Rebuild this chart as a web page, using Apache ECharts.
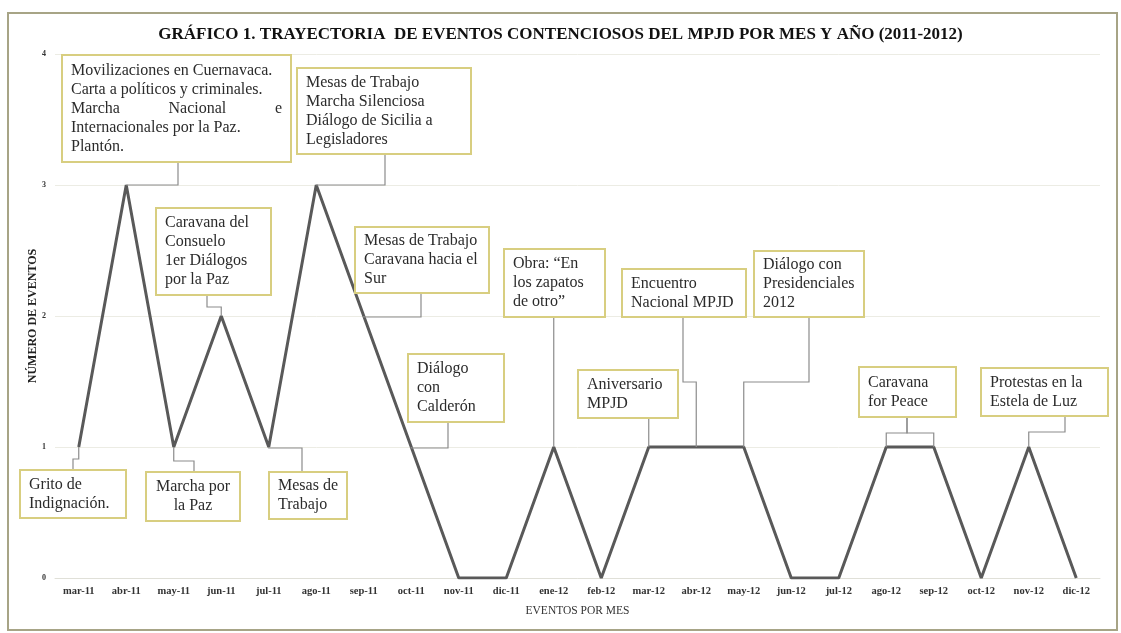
<!DOCTYPE html>
<html>
<head>
<meta charset="utf-8">
<script src="https://cdn.jsdelivr.net/npm/echarts@6/dist/echarts.min.js"></script>
<style>
  html, body { margin: 0; padding: 0; background: #fff; }
  #main { width: 1121px; height: 633px; }
</style>
</head>
<body>
<div id="main"></div>
<script>
// months on the x axis
const months = ['mar-11', 'abr-11', 'may-11', 'jun-11', 'jul-11', 'ago-11', 'sep-11', 'oct-11',
  'nov-11', 'dic-11', 'ene-12', 'feb-12', 'mar-12', 'abr-12', 'may-12', 'jun-12', 'jul-12',
  'ago-12', 'sep-12', 'oct-12', 'nov-12', 'dic-12'];
// number of contentious events per month
const events = [1, 3, 1, 2, 1, 3, 2, 1, 0, 0, 1, 0, 1, 1, 1, 0, 0, 1, 1, 0, 1, 0];

const serif = '"Liberation Serif", "DejaVu Serif", serif';

// callout boxes: box = [x, y, w, h], path = elbow from the box, to = data points it points at
const notes = [
  { box: [62, 55, 229, 107], lines: ['Movilizaciones en Cuernavaca.', 'Carta a políticos y criminales.', 'Marcha Nacional e', 'Internacionales por la Paz.', 'Plantón.'], justify: [2], path: [[178, 162], [178, 185]], to: [['abr-11', 3]] },
  { box: [297, 68, 174, 86], lines: ['Mesas de Trabajo', 'Marcha Silenciosa', 'Diálogo de Sicilia a', 'Legisladores'], path: [[385, 154], [385, 185]], to: [['ago-11', 3]] },
  { box: [156, 208, 115, 87], lines: ['Caravana del', 'Consuelo', '1er Diálogos', 'por la Paz'], path: [[207, 295], [207, 307]], to: [['jun-11', 2]] },
  { box: [355, 227, 134, 66], lines: ['Mesas de Trabajo', 'Caravana hacia el', 'Sur'], path: [[421, 293], [421, 317]], to: [['sep-11', 2]] },
  { box: [408, 354, 96, 68], lines: ['Diálogo', 'con', 'Calderón'], path: [[448, 422], [448, 448]], to: [['oct-11', 1]] },
  { box: [504, 249, 101, 68], lines: ['Obra: “En', 'los zapatos', 'de otro”'], path: [[553, 317]], to: [['ene-12', 1]] },
  { box: [622, 269, 124, 48], lines: ['Encuentro', 'Nacional MPJD'], path: [[683, 317], [683, 382]], to: [['abr-12', 1]] },
  { box: [754, 251, 110, 66], lines: ['Diálogo con', 'Presidenciales', '2012'], path: [[809, 317], [809, 382]], to: [['may-12', 1]] },
  { box: [578, 370, 100, 48], lines: ['Aniversario', 'MPJD'], path: [[649, 418]], to: [['mar-12', 1]] },
  { box: [859, 367, 97, 50], lines: ['Caravana', 'for Peace'], path: [[907, 417], [907, 433]], to: [['ago-12', 1], ['sep-12', 1]] },
  { box: [981, 368, 127, 48], lines: ['Protestas en la', 'Estela de Luz'], path: [[1065, 416], [1065, 432]], to: [['nov-12', 1]] },
  { box: [20, 470, 106, 48], lines: ['Grito de', 'Indignación.'], path: [[73, 470], [73, 459]], to: [['mar-11', 1]] },
  { box: [146, 472, 94, 49], lines: ['Marcha por', 'la Paz'], align: 'center', path: [[194, 472], [194, 461]], to: [['may-11', 1]] },
  { box: [269, 472, 78, 47], lines: ['Mesas de', 'Trabajo'], path: [[302, 472], [302, 448]], to: [['jul-11', 1]] }
];

const chart = echarts.init(document.getElementById('main'));

chart.setOption({
  animation: false,
  backgroundColor: '#fff',
  title: {
    text: 'GRÁFICO 1. TRAYECTORIA  DE EVENTOS CONTENCIOSOS DEL MPJD POR MES Y AÑO (2011-2012)',
    left: 'center',
    top: 21,
    textStyle: { fontFamily: serif, fontSize: 17, fontWeight: 'bold', color: '#111' }
  },
  grid: { left: 55, right: 21, top: 54, bottom: 55 },
  xAxis: {
    type: 'category',
    data: months,
    name: 'EVENTOS POR MES',
    nameLocation: 'middle',
    nameGap: 27,
    nameTextStyle: { fontFamily: serif, fontSize: 11.5, color: '#333' },
    axisLine: { lineStyle: { color: '#e0e0d8', width: 1 } },
    axisTick: { lineStyle: { color: '#e0e0d8' }, length: 4 },
    axisLabel: { fontFamily: serif, fontSize: 10.5, fontWeight: 'bold', color: '#333', margin: 8, interval: 0 }
  },
  yAxis: {
    type: 'value',
    min: 0,
    max: 4,
    interval: 1,
    name: 'NÚMERO DE EVENTOS',
    nameLocation: 'middle',
    nameGap: 16,
    nameRotate: 90,
    nameMoveOverlap: false,
    nameTextStyle: { fontFamily: serif, fontSize: 12, fontWeight: 'bold', color: '#222' },
    axisLine: { show: false },
    axisTick: { show: false },
    axisLabel: { fontFamily: serif, fontSize: 8, fontWeight: 'bold', color: '#333', margin: 9 },
    splitLine: { lineStyle: { color: '#ecece4', width: 1 } }
  },
  series: [{
    type: 'line',
    data: events,
    symbol: 'none',
    lineStyle: { color: '#595959', width: 3 },
    z: 3
  }]
});

// text measuring for the justified line
const ctx = document.createElement('canvas').getContext('2d');
const noteFont = 16;
const lineH = 19;
ctx.font = noteFont + 'px ' + serif;

const graphics = [{
  type: 'rect',
  shape: { x: 8, y: 13, width: 1109, height: 617 },
  style: { fill: 'none', stroke: '#a7a486', lineWidth: 2 },
  silent: true,
  z: 0
}];

notes.forEach(function (n) {
  const [bx, by, bw, bh] = n.box;
  // connectors
  n.to.forEach(function (t) {
    const p = chart.convertToPixel({ seriesIndex: 0 }, [months.indexOf(t[0]), t[1]]);
    const pts = n.path.slice();
    const last = pts[pts.length - 1];
    pts.push([p[0], last[1]]);
    pts.push([p[0], p[1]]);
    graphics.push({
      type: 'polyline',
      shape: { points: pts },
      style: { stroke: '#8c8c8c', lineWidth: 1.2, fill: null },
      silent: true,
      z: 5
    });
  });
  graphics.push({
    type: 'rect',
    shape: { x: bx, y: by, width: bw, height: bh },
    style: { fill: '#fff', stroke: '#d8ce80', lineWidth: 2 },
    silent: true,
    z: 10
  });
  const y0 = by + (bh - (n.lines.length - 1) * lineH) / 2;
  const tx0 = bx + 9;
  const tx1 = bx + bw - 9;
  n.lines.forEach(function (line, i) {
    const ly = y0 + i * lineH;
    const base = { fontSize: noteFont, fontFamily: serif, fill: '#2b2b2b', verticalAlign: 'middle' };
    if (n.justify && n.justify.indexOf(i) >= 0) {
      const words = line.split(' ');
      const widths = words.map(function (w) { return ctx.measureText(w).width; });
      const gap = (tx1 - tx0 - widths.reduce(function (a, b) { return a + b; }, 0)) / (words.length - 1);
      let x = tx0;
      words.forEach(function (w, k) {
        graphics.push({ type: 'text', z: 11, silent: true, style: Object.assign({ text: w, x: x, y: ly, align: 'left' }, base) });
        x += widths[k] + gap;
      });
    } else if (n.align === 'center') {
      graphics.push({ type: 'text', z: 11, silent: true, style: Object.assign({ text: line, x: bx + bw / 2, y: ly, align: 'center' }, base) });
    } else {
      graphics.push({ type: 'text', z: 11, silent: true, style: Object.assign({ text: line, x: tx0, y: ly, align: 'left' }, base) });
    }
  });
});

chart.setOption({ graphic: graphics });
</script>
</body>
</html>
